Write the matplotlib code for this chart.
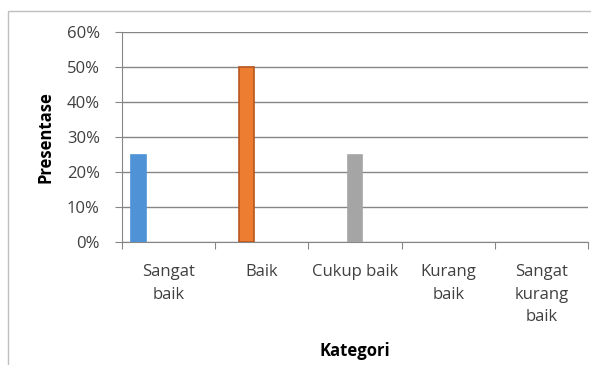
import numpy as np
import matplotlib.pyplot as plt
from matplotlib.patches import Rectangle
from matplotlib.ticker import PercentFormatter

categories = ['Sangat\nbaik', 'Baik', 'Cukup baik', 'Kurang\nbaik', 'Sangat\nkurang\nbaik']
values = [0.25, 0.50, 0.25, 0.0, 0.0]
colors = ['#4F92D6', '#ED7D31', '#A5A5A5', '#FFC000', '#4472C4']
edges = ['#4F92D6', '#B8561E', '#A5A5A5', '#FFC000', '#4472C4']

plt.rcParams['font.family'] = ['Open Sans', 'DejaVu Sans']

fig = plt.figure(figsize=(5.91, 3.65), dpi=100)
ax = fig.add_axes([0.2064, 0.337, 0.7886, 0.575])

# outer chart border
fig.patches.append(Rectangle((8 / 591, -0.1), 1.2, 1 - 11 / 365 + 0.1,
                             transform=fig.transFigure, fill=False,
                             ec='#BFBFBF', lw=1))

w = 0.16
x = np.arange(len(categories))
for i, v in enumerate(values):
    if v > 0:
        ax.bar(x[i] + (i - 2) * w, v, width=w, color=colors[i], ec=edges[i],
               lw=1.2, zorder=3)

ax.set_xlim(-0.5, 4.5)
ax.set_ylim(0, 0.6)
ax.set_yticks(np.arange(0, 0.61, 0.1))
ax.yaxis.set_major_formatter(PercentFormatter(1.0, decimals=0))
ax.grid(axis='y', color='#868686', lw=1, zorder=0)

ax.set_xticks(np.arange(-0.5, 5, 1))
ax.set_xticklabels([])
ax.set_xticks(x, minor=True)
ax.set_xticklabels(categories, minor=True, linespacing=1.55)
ax.tick_params(axis='x', which='minor', length=0, pad=16, labelsize=12, labelcolor='#404040')
ax.tick_params(axis='x', which='major', length=5, color='#868686')
ax.tick_params(axis='y', length=5, color='#868686', labelsize=12, labelcolor='#404040', pad=11)
for lbl in ax.get_xticklabels(minor=True):
    lbl.set_verticalalignment('top')
    lbl.set_horizontalalignment('center')

for s in ['top', 'right']:
    ax.spines[s].set_visible(False)
for s in ['left', 'bottom']:
    ax.spines[s].set_color('#868686')

ax.set_ylabel('Presentase', fontweight='bold', fontsize=12, labelpad=9)
ax.set_xlabel('Kategori', fontweight='bold', fontsize=12, labelpad=12)

plt.savefig('out.png', dpi=100)
